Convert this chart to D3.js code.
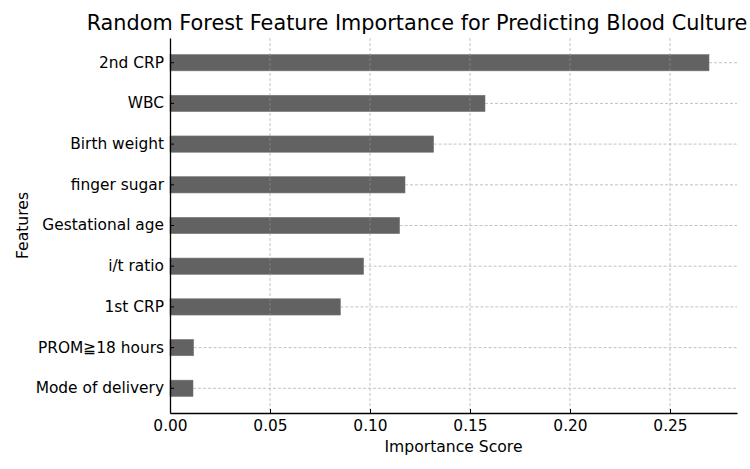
<!DOCTYPE html>
<html>
<head>
<meta charset="utf-8">
<script src="https://cdn.jsdelivr.net/npm/d3@7"></script>
<style>
  body { margin: 0; background: #fff; }
  svg { font-family: "DejaVu Sans", sans-serif; }
</style>
</head>
<body>
<svg id="canvas"></svg>
<script>
// data (top to bottom)
const features = ["2nd CRP", "WBC", "Birth weight", "finger sugar", "Gestational age",
                  "i/t ratio", "1st CRP", "PROM≧18 hours", "Mode of delivery"]
const importance = [0.2695, 0.1575, 0.1318, 0.1175, 0.1148, 0.0968, 0.0852, 0.0118, 0.0115]
const xTicks = [0, 0.05, 0.10, 0.15, 0.20, 0.25]

const width = 750
const height = 469
const margin = { top: 38, right: 13, bottom: 56, left: 170 }

let canvas = d3.select("#canvas")
canvas.attr('width', width).attr('height', height)

let xScale = d3.scaleLinear()
    .domain([0, 0.2835])
    .range([margin.left, width - margin.right])

let yScale = d3.scaleBand()
    .domain(features)
    .range([margin.top, height - margin.bottom])
    .paddingInner(0.6)
    .paddingOuter(0.407)

let data = features.map((f, i) => ({ feature: f, value: importance[i] }))

// bars
canvas.selectAll('rect.bar')
    .data(data)
    .enter()
    .append('rect')
    .attr('class', 'bar')
    .attr('x', xScale(0))
    .attr('y', d => yScale(d.feature))
    .attr('width', d => xScale(d.value) - xScale(0))
    .attr('height', yScale.bandwidth())
    .attr('fill', '#626262')
    .attr('stroke', '#777')
    .attr('stroke-width', 0.6)

// grid (drawn over the bars, semi transparent like the original)
let grid = canvas.append('g').attr('class', 'grid')
    .attr('stroke', '#9a9a9a')
    .attr('stroke-width', 0.8)
    .attr('stroke-dasharray', '3,2')
    .attr('opacity', 0.75)

grid.selectAll('line.vx')
    .data(xTicks.slice(1))
    .enter()
    .append('line')
    .attr('x1', d => xScale(d)).attr('x2', d => xScale(d))
    .attr('y1', margin.top).attr('y2', height - margin.bottom)

grid.selectAll('line.hy')
    .data(features)
    .enter()
    .append('line')
    .attr('x1', d => xScale(importance[features.indexOf(d)]))
    .attr('x2', width - margin.right)
    .attr('y1', d => yScale(d) + yScale.bandwidth() / 2)
    .attr('y2', d => yScale(d) + yScale.bandwidth() / 2)

// axes
let xAxis = d3.axisBottom(xScale)
    .tickValues(xTicks)
    .tickFormat(d3.format('.2f'))
    .tickSizeInner(-4)
    .tickSizeOuter(0)
    .tickPadding(10)

let yAxis = d3.axisLeft(yScale)
    .tickSizeInner(-4)
    .tickSizeOuter(0)
    .tickPadding(6)

let gx = canvas.append('g')
    .attr('id', 'x-axis')
    .attr('transform', `translate(0, ${height - margin.bottom})`)
    .call(xAxis)

let gy = canvas.append('g')
    .attr('id', 'y-axis')
    .attr('transform', `translate(${margin.left}, 0)`)
    .call(yAxis)

for (let g of [gx, gy]) {
    g.attr('font-size', null).attr('font-family', null)
    g.selectAll('text')
        .style('font-family', '"DejaVu Sans", sans-serif')
        .style('font-size', '15.4px')
        .attr('fill', '#000')
    g.select('.domain').attr('stroke', '#000').attr('stroke-width', 1.3)
    g.selectAll('.tick line').attr('stroke', '#000').attr('stroke-width', 1)
}
gy.selectAll('.tick text').attr('x', -6)
gx.selectAll('.tick text').attr('y', 7)

// title and axis labels
canvas.append('text')
    .attr('x', 417)
    .attr('y', 30)
    .attr('text-anchor', 'middle')
    .style('font-size', '20.8px')
    .text('Random Forest Feature Importance for Predicting Blood Culture')

canvas.append('text')
    .attr('x', (margin.left + width - margin.right) / 2)
    .attr('y', 452)
    .attr('text-anchor', 'middle')
    .style('font-size', '15.6px')
    .text('Importance Score')

canvas.append('text')
    .attr('transform', `translate(28, ${(margin.top + height - margin.bottom) / 2}) rotate(-90)`)
    .attr('text-anchor', 'middle')
    .style('font-size', '15.6px')
    .text('Features')
</script>
</body>
</html>
